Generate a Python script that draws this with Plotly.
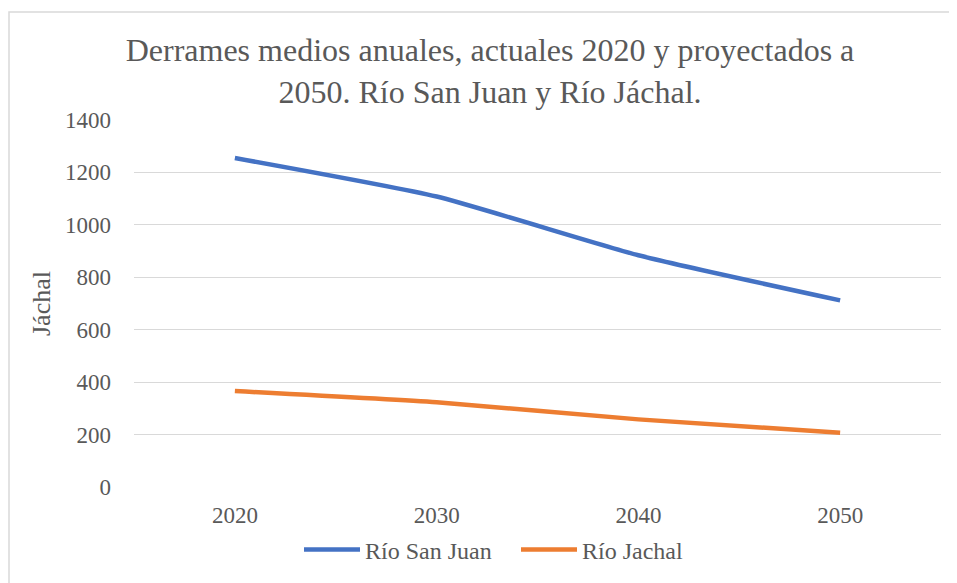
import plotly.graph_objects as go

years = ["2020", "2030", "2040", "2050"]
san_juan = [1255, 1108, 884, 712]
jachal = [366, 323, 258, 207]
y_ticks = [0, 200, 400, 600, 800, 1000, 1200, 1400]

FONT = "Liberation Serif"
GREY = "#595959"

# page body has an 8px margin, so work in screen pixels minus 8
OFF = 8
W, H = 957 - OFF, 583 - OFF
L, T = 134 - OFF, 120 - OFF
pw, ph = 807, 367
R, B = W - L - pw, H - T - ph


def px_x(x):
    return (x - OFF - L) / pw


def px_y(y):
    return (T + ph - (y - OFF)) / ph


fig = go.Figure()
fig.add_trace(go.Scatter(
    x=years, y=san_juan, mode="lines", name="Río San Juan",
    line=dict(color="#4472C4", width=4.5, shape="spline", smoothing=0.5),
))
fig.add_trace(go.Scatter(
    x=years, y=jachal, mode="lines", name="Río Jachal",
    line=dict(color="#ED7D31", width=4.5, shape="spline", smoothing=0.5),
))

fig.update_layout(
    width=W, height=H,
    margin=dict(l=L, r=R, t=T, b=B),
    paper_bgcolor="white", plot_bgcolor="white",
    font=dict(family=FONT, color=GREY, size=23),
    title=dict(
        text="Derrames medios anuales, actuales 2020 y proyectados a<br>2050. Río San Juan y Río Jáchal.",
        x=(490 - OFF) / W, xanchor="center", y=1 - (61 - OFF) / H, yanchor="middle",
        font=dict(family=FONT, size=32, color=GREY),
    ),
    xaxis=dict(
        type="category", range=[-0.5, 3.5], showgrid=False,
        showline=False, zeroline=False, ticks="", automargin=False,
        ticklabelstandoff=12, tickfont=dict(family=FONT, size=23, color=GREY),
    ),
    yaxis=dict(
        range=[0, 1400], tickvals=y_ticks, showgrid=True,
        gridcolor="#D9D9D9", gridwidth=1.3, zeroline=False, showline=False,
        ticks="", ticklabelstandoff=22, automargin=False,
        tickfont=dict(family=FONT, size=23, color=GREY),
        title=dict(text="Jáchal", font=dict(family=FONT, size=26, color=GREY), standoff=6),
    ),
    legend=dict(
        orientation="h", x=(299 - OFF) / W, xref="container", xanchor="left",
        y=1 - (550 - OFF) / H, yref="container", yanchor="middle",
        font=dict(family=FONT, size=24, color=GREY), itemwidth=56,
        entrywidth=146, entrywidthmode="pixels",
    ),
    shapes=[dict(
        type="rect", xref="paper", yref="paper",
        x0=px_x(9), x1=px_x(990), y0=px_y(620), y1=px_y(12),
        line=dict(color="#D9D9D9", width=1.5), layer="below",
    )],
)

fig.write_html("out.html")
